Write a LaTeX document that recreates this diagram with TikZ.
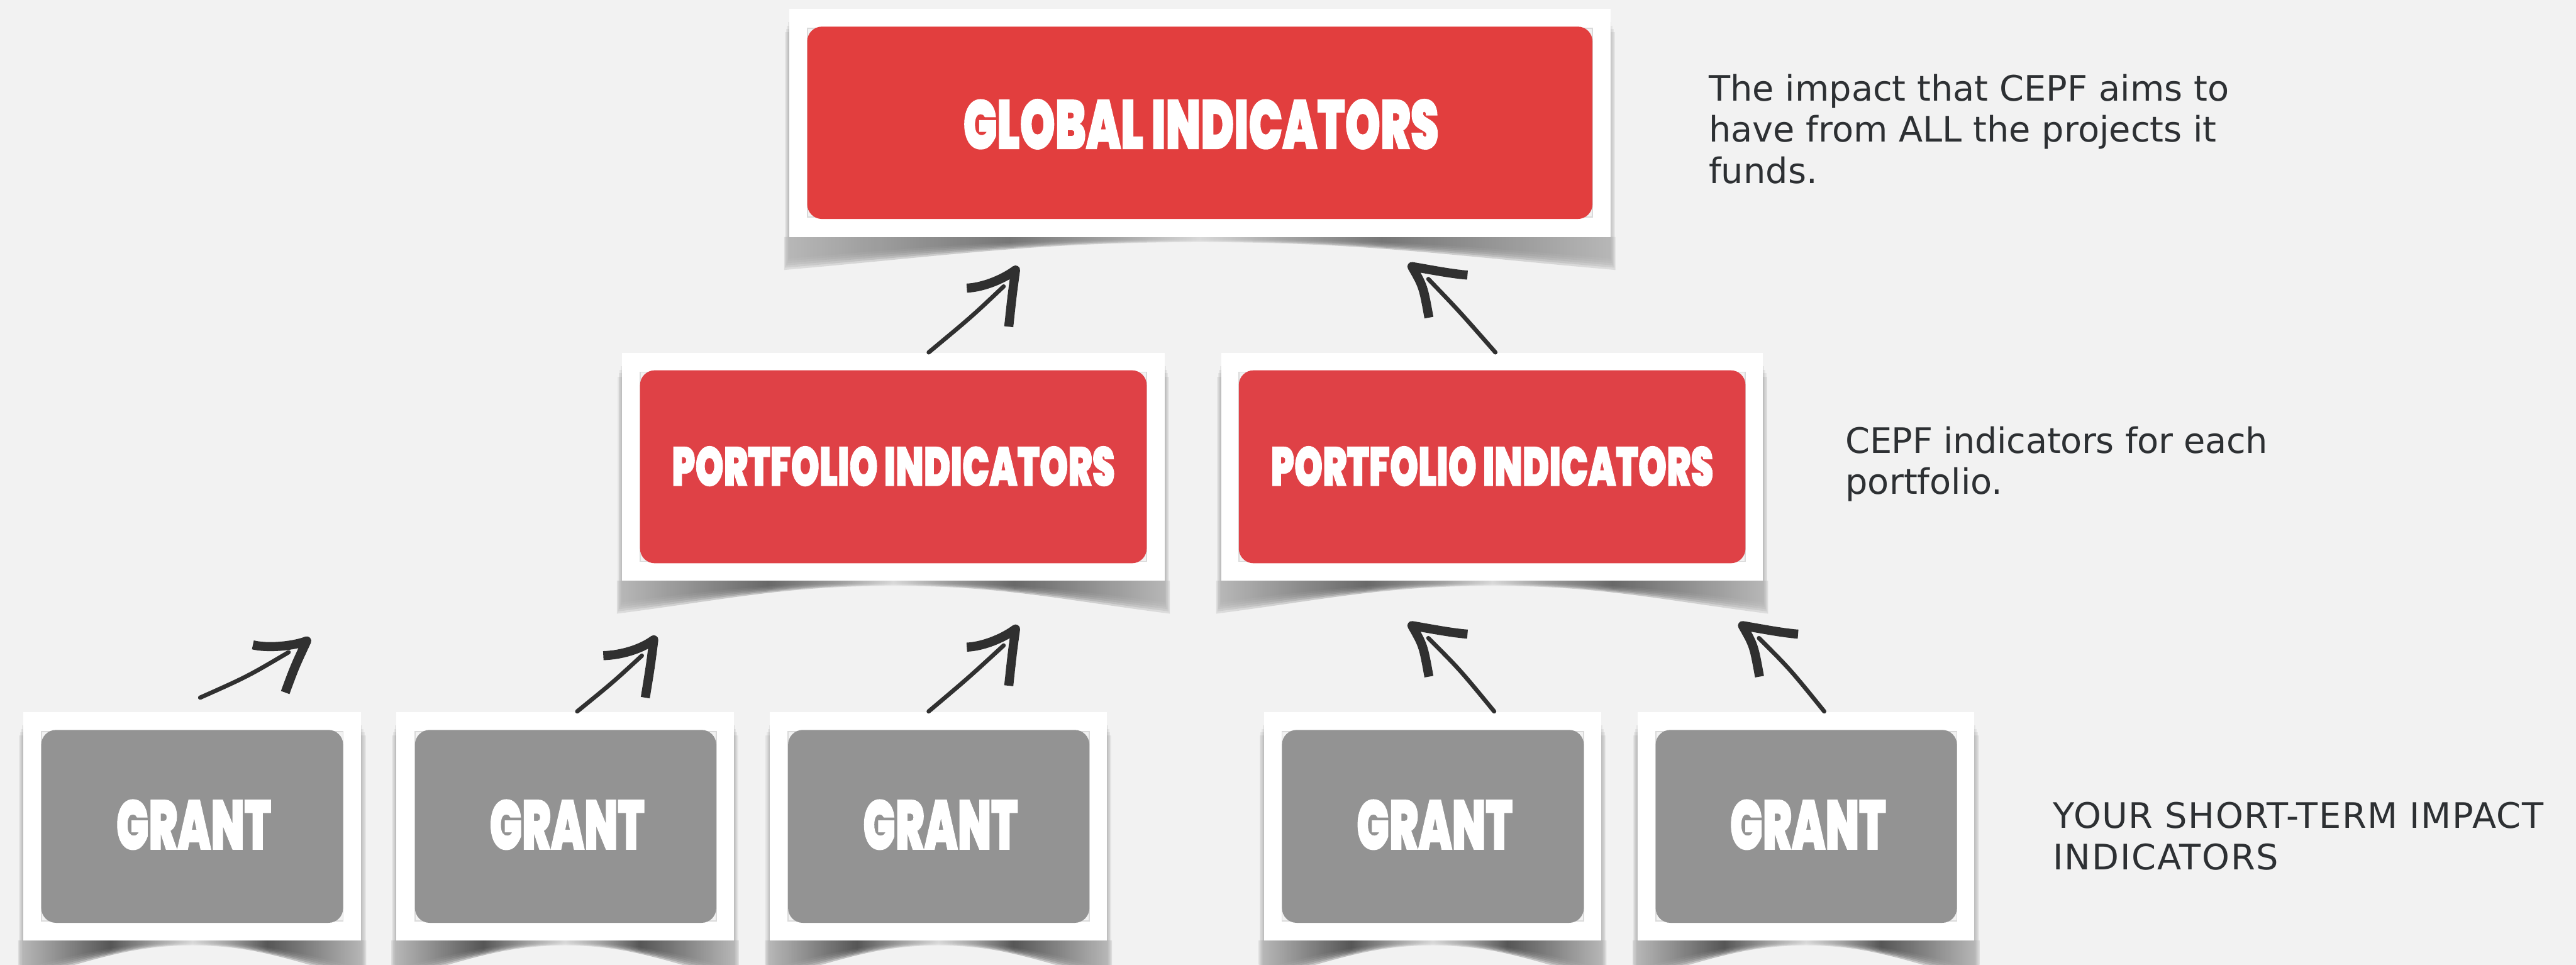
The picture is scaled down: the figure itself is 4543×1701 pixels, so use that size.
\documentclass[tikz,border=0pt]{standalone}
\usepackage{fontspec}
\setmainfont{DejaVu Sans}
\newfontfamily\impf{Poppins}[UprightFont=* Black,UprightFeatures={FakeBold=1.5}]
\usetikzlibrary{calc}
\definecolor{pagebg}{HTML}{F2F2F2}
\definecolor{redg}{HTML}{E23E3E}
\definecolor{redp}{HTML}{DF4146}
\definecolor{grantgr}{HTML}{939393}
\definecolor{inkc}{HTML}{303030}
\definecolor{bodyc}{HTML}{2D3033}
\definecolor{cornerc}{HTML}{DADADA}
\pgfdeclarehorizontalshading{shadg}{100bp}{color(0bp)=(black!30);color(25bp)=(black!30);color(38.5bp)=(black!58);color(45bp)=(black!38);color(50bp)=(black!16);color(55bp)=(black!38);color(61bp)=(black!58);color(75bp)=(black!30);color(100bp)=(black!30)}
\pgfdeclarehorizontalshading{shadp}{100bp}{color(0bp)=(black!30);color(25bp)=(black!30);color(38.5bp)=(black!64);color(45bp)=(black!42);color(50bp)=(black!16);color(55bp)=(black!42);color(61bp)=(black!64);color(75bp)=(black!30);color(100bp)=(black!30)}
\pgfdeclarehorizontalshading{shadb}{100bp}{color(0bp)=(black!30);color(25bp)=(black!30);color(38bp)=(black!72);color(45bp)=(black!38);color(50bp)=(black!16);color(55bp)=(black!38);color(61bp)=(black!72);color(75bp)=(black!30);color(100bp)=(black!30)}
\tikzset{
  cardbox/.style={fill=white,draw=none,inner sep=0pt,minimum width=#1},
  innerg/.style={fill=redg,rounded corners=.26cm,inner sep=0pt},
  innerp/.style={fill=redp,rounded corners=.26cm,inner sep=0pt},
  innerb/.style={fill=grantgr,rounded corners=.26cm,inner sep=0pt},
  corner/.style={fill=pagebg,draw=cornerc,line width=.02cm},
  impactlabel/.style={text=white,inner sep=0pt},
  bodytext/.style={text=bodyc,inner sep=0pt,anchor=north west,align=left,font=\fontsize{17.6pt}{20.7pt}\selectfont},
  shaft/.style={draw=inkc,line width=.075cm,line cap=round},
  head/.style={draw=inkc,line width=.16cm,line join=round,line cap=butt}
}
% x1 y1 x2 y2 depth shading
\newcommand\softshadow[6]{%
  \foreach \e in {8,6,4,2}{\fill[black,opacity=.055] ({#1-\e},{#2+18+3*\e}) rectangle ({#3+\e},{#4});}
  \foreach \e/\r in {9/0,7/4,5/8,3/12,2/16,1/20}{%
    \shade[shading=#6,opacity=.33] ({#1-\e},{#4}) -- ({#1-\e},{#4+#5-\r})
      .. controls ({#1+.2*(#3-#1)},{#4+#5*.55-\r}) and ({(#1+#3)/2-.2*(#3-#1)},{#4+9-\r*.25}) .. ({(#1+#3)/2},{#4+9-\r*.25})
      .. controls ({(#1+#3)/2+.2*(#3-#1)},{#4+9-\r*.25}) and ({#3-.2*(#3-#1)},{#4+#5*.55-\r}) .. ({#3+\e},{#4+#5-\r})
      -- ({#3+\e},{#4}) -- cycle;
  }}
% white card x1 y1 x2 y2, name, corner rectangle x1 y1 x2 y2
\newcommand\cardnode[9]{%
  \node[cardbox={(#3-#1)*.01cm},minimum height={(#4-#2)*.01cm}] (#5) at ({(#1+#3)/2},{(#2+#4)/2}) {};
  \fill[corner] (#6,#7) rectangle (#8,#9);
}
\newcommand\imp[3]{\resizebox*{#1}{#2}{\impf #3}}
% start, shaft control, shaft end, tip, barb A, controls c1 c2, barb B, control
\newcommand\skarrow[9]{%
  \draw[shaft] #1 .. controls #2 .. #3;
  \draw[head] #5 .. controls #6 and #7 .. #4 .. controls #9 .. #8;
}
\begin{document}
\begin{tikzpicture}[x=.01cm,y=-.01cm]
\useasboundingbox (0,0) rectangle (4543,1701);
\clip (0,0) rectangle (4543,1701);
\fill[pagebg] (0,0) rectangle (4543,1701);

% shadows
\softshadow{1392}{15}{2840}{418}{58}{shadg}
\softshadow{1097}{622}{2054}{1024}{58}{shadp}
\softshadow{2154}{622}{3109}{1024}{58}{shadp}
\softshadow{41}{1255}{637}{1658}{70}{shadb}
\softshadow{699}{1255}{1294}{1658}{70}{shadb}
\softshadow{1358}{1255}{1952}{1658}{70}{shadb}
\softshadow{2229}{1255}{2824}{1658}{70}{shadb}
\softshadow{2888}{1255}{3482}{1658}{70}{shadb}

% cards
\cardnode{1392}{15}{2840}{418}{g1}{1424}{50}{2808}{383}
\node[innerg,minimum width=13.84cm,minimum height=3.39cm] (g1i) at (2116,216.5) {};
\node[impactlabel] (g1t) at ($(g1i.center)+(2,2.5)$) {\imp{8.38cm}{.88cm}{GLOBAL INDICATORS}};

\cardnode{1097}{622}{2054}{1024}{p1}{1129}{656}{2022}{990}
\node[innerp,minimum width=8.93cm,minimum height=3.40cm] (p1i) at (1575.5,823) {};
\node[impactlabel] (p1t) at ($(p1i.center)+(0,-1)$) {\imp{7.81cm}{.70cm}{PORTFOLIO INDICATORS}};

\cardnode{2154}{622}{3109}{1024}{p2}{2185}{656}{3078}{990}
\node[innerp,minimum width=8.93cm,minimum height=3.40cm] (p2i) at (2631.5,823) {};
\node[impactlabel] (p2t) at ($(p2i.center)+(0,-1)$) {\imp{7.80cm}{.70cm}{PORTFOLIO INDICATORS}};

\cardnode{41}{1255}{637}{1658}{b1}{73}{1290}{605}{1624}
\node[innerb,minimum width=5.32cm,minimum height=3.40cm] (b1i) at (339,1457) {};
\node[impactlabel] (b1t) at ($(b1i.center)+(2.5,-3)$) {\imp{2.73cm}{.88cm}{GRANT}};

\cardnode{699}{1255}{1294}{1658}{b2}{732}{1290}{1263}{1624}
\node[innerb,minimum width=5.31cm,minimum height=3.40cm] (b2i) at (997.5,1457) {};
\node[impactlabel] (b2t) at ($(b2i.center)+(2.5,-3)$) {\imp{2.73cm}{.88cm}{GRANT}};

\cardnode{1358}{1255}{1952}{1658}{b3}{1390}{1290}{1921}{1624}
\node[innerb,minimum width=5.31cm,minimum height=3.40cm] (b3i) at (1655.5,1457) {};
\node[impactlabel] (b3t) at ($(b3i.center)+(3,-3)$) {\imp{2.73cm}{.88cm}{GRANT}};

\cardnode{2229}{1255}{2824}{1658}{b4}{2261}{1290}{2793}{1624}
\node[innerb,minimum width=5.32cm,minimum height=3.40cm] (b4i) at (2527,1457) {};
\node[impactlabel] (b4t) at ($(b4i.center)+(3,-3)$) {\imp{2.75cm}{.88cm}{GRANT}};

\cardnode{2888}{1255}{3482}{1658}{b5}{2920}{1290}{3451}{1624}
\node[innerb,minimum width=5.31cm,minimum height=3.40cm] (b5i) at (3185.5,1457) {};
\node[impactlabel] (b5t) at ($(b5i.center)+(3,-3)$) {\imp{2.75cm}{.88cm}{GRANT}};

% arrow ends on the cards
\coordinate (s1) at (353,1230);
\coordinate (s2) at ($(b2.north west)!.536!(b2.north east)$);
\coordinate (s3) at ($(b3.north west)!.471!(b3.north east)$);
\coordinate (s4) at ($(b4.north west)!.682!(b4.north east)$);
\coordinate (s5) at ($(b5.north west)!.554!(b5.north east)$);
\coordinate (sA) at ($(p1.north west)!.565!(p1.north east)$);
\coordinate (sB) at ($(p2.north west)!.506!(p2.north east)$);

\skarrow{(sA)}{(1714,558)}{(1770,505)}{(1791,476)}{(1705,508)}{(1730,507)}{(1765,495)}{(1779,576)}{(1785,520)}
\skarrow{(sB)}{(2572,547)}{(2519,492)}{(2490,470)}{(2588,485)}{(2560,483)}{(2520,475)}{(2520,560)}{(2510,505)}
\skarrow{(s1)}{(436,1193)}{(509,1150)}{(541,1130)}{(446,1137)}{(470,1143)}{(515,1140)}{(503,1221)}{(520,1175)}
\skarrow{(s2)}{(1081,1203)}{(1132,1156)}{(1153,1128)}{(1064,1156)}{(1095,1155)}{(1130,1145)}{(1138,1230)}{(1147,1175)}
\skarrow{(s3)}{(1708,1195)}{(1770,1138)}{(1791,1109)}{(1705,1141)}{(1730,1140)}{(1765,1128)}{(1779,1209)}{(1785,1153)}
\skarrow{(s4)}{(2574,1180)}{(2519,1125)}{(2490,1103)}{(2588,1118)}{(2560,1116)}{(2520,1108)}{(2520,1193)}{(2510,1138)}
\skarrow{(s5)}{(3157,1180)}{(3102,1125)}{(3073,1103)}{(3171,1118)}{(3143,1116)}{(3103,1108)}{(3103,1193)}{(3093,1138)}

% side texts
\node[bodytext] (t1) at (3013,130) {The impact that CEPF aims to\\have from ALL the projects it\\funds.};
\node[bodytext] (t2) at (3254,751) {\addfontfeature{LetterSpace=-.7}CEPF indicators for each\\portfolio.};
\node[bodytext] (t3) at (3620,1414) {\addfontfeature{LetterSpace=2.7}YOUR SHORT-TERM IMPACT\\\addfontfeature{LetterSpace=3.2}INDICATORS};
\end{tikzpicture}
\end{document}
